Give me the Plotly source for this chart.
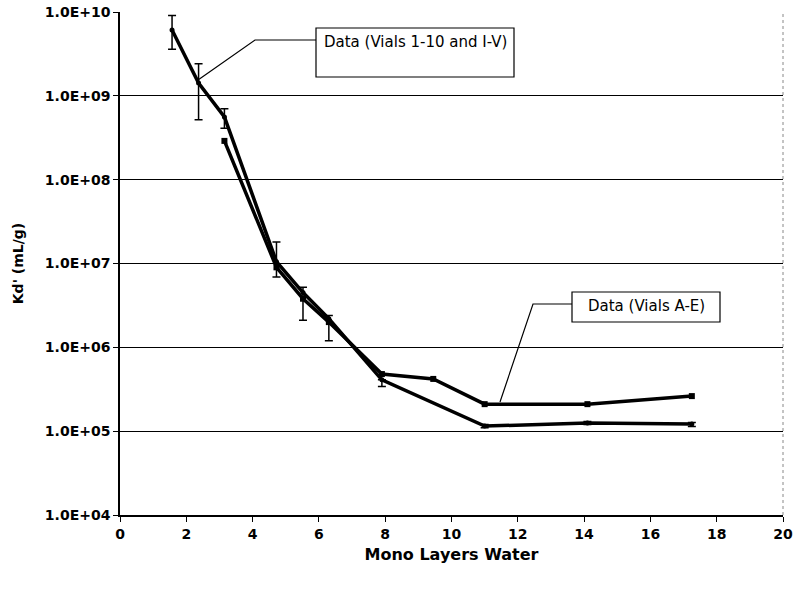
import plotly.graph_objects as go

# Kd' versus water coverage (mono layers)
vials_1_10_x = [1.57, 2.37, 3.15, 4.72, 5.52, 6.30, 7.90, 11.0, 14.1, 17.25]
vials_1_10_y = [6.1e9, 1.42e9, 5.6e8, 1.05e7, 4.5e6, 2.2e6, 4.1e5, 1.15e5, 1.25e5, 1.22e5]
vials_1_10_err_up = [3.0e9, 1.0e9, 1.4e8, 7.5e6, 0.7e6, 0.2e6, 0.0, 0.05e5, 0.05e5, 0.05e5]
vials_1_10_err_dn = [2.5e9, 9.0e8, 1.5e8, 3.6e6, 2.4e6, 1.0e6, 0.7e5, 0.05e5, 0.05e5, 0.08e5]

vials_a_e_x = [3.15, 4.72, 5.52, 6.30, 7.90, 9.45, 11.0, 14.1, 17.25]
vials_a_e_y = [2.9e8, 9.0e6, 3.8e6, 2.0e6, 4.8e5, 4.2e5, 2.1e5, 2.1e5, 2.62e5]

x_ticks = list(range(0, 21, 2))
y_tickvals = [1e4, 1e5, 1e6, 1e7, 1e8, 1e9, 1e10]
y_ticktext = ["1.0E+04", "1.0E+05", "1.0E+06", "1.0E+07", "1.0E+08", "1.0E+09", "1.0E+10"]

label_1 = "Data (Vials 1-10 and I-V)"
label_2 = "Data (Vials A-E)"

FAM = "DejaVu Sans, sans-serif"

fig = go.Figure()

fig.add_trace(go.Scatter(
    x=vials_1_10_x, y=vials_1_10_y, mode="lines+markers", name=label_1,
    line=dict(color="black", width=3.5),
    marker=dict(symbol="circle", size=5, color="black"),
    error_y=dict(type="data", symmetric=False, array=vials_1_10_err_up,
                 arrayminus=vials_1_10_err_dn, color="black", thickness=1.5, width=4),
))

fig.add_trace(go.Scatter(
    x=vials_a_e_x, y=vials_a_e_y, mode="lines+markers", name=label_2,
    line=dict(color="black", width=3.5),
    marker=dict(symbol="square", size=6, color="black"),
))

# plot-area geometry in pixels, used to place the callouts
L, R, T, B = 120, 783, 12, 515


def px(xp):
    return (xp - L) / (R - L)


def py(yp):
    return (B - yp) / (B - T)


shapes = [
    # right frame edge
    dict(type="line", xref="paper", yref="paper", x0=1, x1=1, y0=0, y1=1,
         line=dict(color="#888", width=1, dash="dot")),
    # callout boxes
    dict(type="rect", xref="paper", yref="paper", x0=px(316), x1=px(514), y0=py(77), y1=py(28),
         line=dict(color="black", width=1.2), fillcolor="white"),
    dict(type="rect", xref="paper", yref="paper", x0=px(572), x1=px(720), y0=py(322), y1=py(292),
         line=dict(color="black", width=1.2), fillcolor="white"),
    # leader lines
    dict(type="path", xref="paper", yref="paper",
         path=f"M {px(316)} {py(40)} L {px(255)} {py(40)} L {px(198)} {py(80)}",
         line=dict(color="black", width=1.2)),
    dict(type="path", xref="paper", yref="paper",
         path=f"M {px(572)} {py(304)} L {px(533)} {py(304)} L {px(500)} {py(402)}",
         line=dict(color="black", width=1.2)),
]

annotations = [
    dict(xref="paper", yref="paper", x=px(415), y=py(42), text=label_1, showarrow=False,
         font=dict(family=FAM, size=15, color="black"), xanchor="center", yanchor="middle"),
    dict(xref="paper", yref="paper", x=px(646), y=py(306), text=label_2, showarrow=False,
         font=dict(family=FAM, size=15, color="black"), xanchor="center", yanchor="middle"),
]

fig.update_layout(
    width=795, height=592,
    margin=dict(l=L, r=795 - R, t=T, b=592 - B),
    paper_bgcolor="white", plot_bgcolor="white",
    showlegend=False,
    shapes=shapes, annotations=annotations,
    xaxis=dict(
        range=[0, 20], tickvals=x_ticks, ticks="outside", ticklen=5, tickcolor="black",
        showline=True, linecolor="black", linewidth=1.5, showgrid=False, zeroline=False,
        automargin=False,
        tickfont=dict(family=FAM, size=14, color="black", weight="bold"),
        title=dict(text="Mono Layers Water", font=dict(family=FAM, size=16, color="black", weight="bold"),
                   standoff=8),
    ),
    yaxis=dict(
        type="log", range=[4, 10], tickvals=y_tickvals, ticktext=y_ticktext,
        ticks="outside", ticklen=5, tickcolor="black",
        showline=True, linecolor="black", linewidth=1.5,
        showgrid=True, gridcolor="black", gridwidth=1, zeroline=False,
        automargin=False,
        tickfont=dict(family=FAM, size=14, color="black", weight="bold"),
        title=dict(text="Kd' (mL/g)", font=dict(family=FAM, size=14, color="black", weight="bold"),
                   standoff=18),
    ),
)

fig.write_html("out.html")
